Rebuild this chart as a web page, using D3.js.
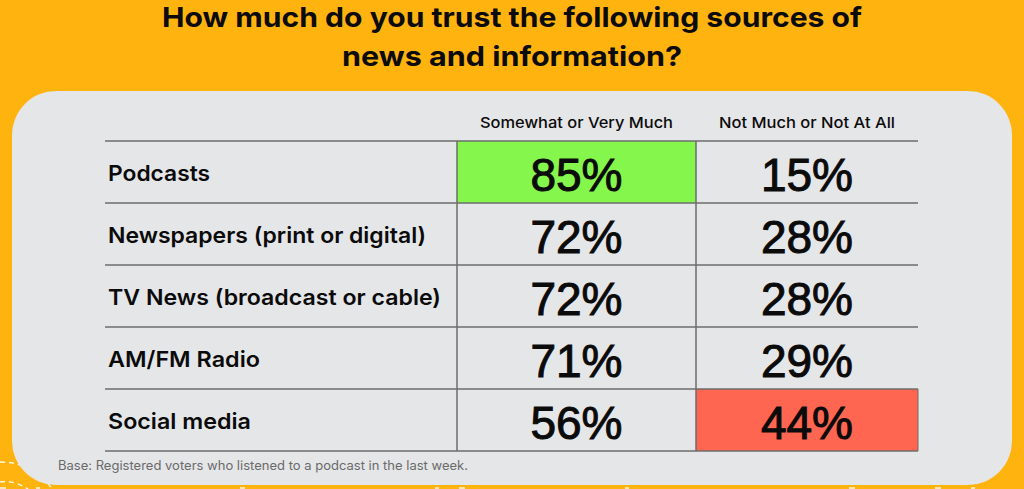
<!DOCTYPE html>
<html>
<head>
<meta charset="utf-8">
<script src="https://cdn.jsdelivr.net/npm/d3@7"></script>
<style>
  html, body { margin: 0; padding: 0; background: #FFB30F; }
  svg { display: block; }
</style>
</head>
<body>
<svg id="chart" width="1024" height="489"></svg>
<script>
// ---- data ----
const titleLines = ["How much do you trust the following sources of", "news and information?"];
const categories = ["Podcasts", "Newspapers (print or digital)", "TV News (broadcast or cable)", "AM/FM Radio", "Social media"];
const columnHeaders = ["Somewhat or Very Much", "Not Much or Not At All"];
const trustHigh = [85, 72, 72, 71, 56];
const trustLow = [15, 28, 28, 29, 44];
const footnote = "Base: Registered voters who listened to a podcast in the last week.";

// ---- layout ----
const W = 1024, H = 489;
const svg = d3.select("#chart");
const C = {
  bg: "#FFB30F", panel: "#E5E6E8", line: "#6c6c6c",
  green: "#85F64B", red: "#FF6651", text: "#0b0b0b", note: "#6a6a6a"
};

svg.append("rect").attr("width", W).attr("height", H).attr("fill", C.bg);

// decorative dashed white curves (behind panel)
const deco = svg.append("g").attr("fill", "none").attr("stroke", "#fff")
  .attr("stroke-width", 1.5).attr("stroke-dasharray", "5,4").attr("opacity", 0.9);
deco.append("path").attr("d", "M0,462 C20,462 40,470 52,489");
deco.append("path").attr("d", "M0,482 C10,480 20,484 28,489");
deco.append("path").attr("d", "M0,488 L1024,488")
  .attr("stroke-dasharray", "6,30,4,200,5,190,4,20,6,160,4,220,6,80");

// panel
svg.append("rect").attr("x", 12).attr("y", 91).attr("width", 1000).attr("height", 394)
  .attr("rx", 44).attr("ry", 44).attr("fill", C.panel);

// title
const title = svg.append("g");
const titleBase = [27, 66];
const titleWidths = [700, 340];
titleLines.forEach((t, i) => {
  title.append("text")
    .attr("x", 512).attr("y", titleBase[i])
    .attr("text-anchor", "middle")
    .attr("font-family", "Inter, 'Noto Sans', sans-serif")
    .attr("font-weight", 700).attr("font-size", 27.5)
    .attr("fill", C.text)
    .attr("textLength", titleWidths[i]).attr("lengthAdjust", "spacingAndGlyphs")
    .text(t);
});

// scales
const y = d3.scaleBand().domain(categories).range([141, 451]).padding(0);
const colX = { label: [105, 457], high: [457, 696], low: [696, 918] };
const xCenter = k => (colX[k][0] + colX[k][1]) / 2;

const maxHigh = d3.max(trustHigh), maxLow = d3.max(trustLow);
const rows = categories.map((c, i) => ({ cat: c, high: trustHigh[i], low: trustLow[i] }));

// highlighted cells
const cells = svg.append("g");
rows.forEach(r => {
  if (r.high === maxHigh) {
    cells.append("rect").attr("x", colX.high[0]).attr("y", y(r.cat))
      .attr("width", colX.high[1] - colX.high[0]).attr("height", y.bandwidth()).attr("fill", C.green);
  }
  if (r.low === maxLow) {
    cells.append("rect").attr("x", colX.low[0]).attr("y", y(r.cat))
      .attr("width", colX.low[1] - colX.low[0]).attr("height", y.bandwidth()).attr("fill", C.red);
  }
});

// grid lines
const grid = svg.append("g").attr("stroke", C.line).attr("stroke-width", 1.5);
const hLines = categories.map(c => y(c)).concat([y.range()[1]]);
hLines.forEach(v => {
  grid.append("line").attr("x1", 105).attr("x2", 918).attr("y1", v).attr("y2", v);
});
[457, 696].forEach(v => {
  grid.append("line").attr("x1", v).attr("x2", v).attr("y1", y.range()[0]).attr("y2", y.range()[1]);
});
grid.append("line").attr("x1", 918).attr("x2", 918)
  .attr("y1", y(categories[categories.length - 1])).attr("y2", y.range()[1]).attr("stroke-width", 1);

// column headers
const headerWidths = [193, 176];
["high", "low"].forEach((k, i) => {
  svg.append("text")
    .attr("x", xCenter(k)).attr("y", 127.5)
    .attr("text-anchor", "middle")
    .attr("font-family", "Inter, 'Noto Sans', sans-serif")
    .attr("font-weight", 500).attr("font-size", 15)
    .attr("fill", C.text)
    .attr("textLength", headerWidths[i]).attr("lengthAdjust", "spacingAndGlyphs")
    .text(columnHeaders[i]);
});

// row labels and values
const labelWidths = [102, 318, 333, 152, 143];
rows.forEach((r, i) => {
  const cy = y(r.cat) + y.bandwidth() / 2;
  svg.append("text")
    .attr("x", 108).attr("y", cy + 8.5)
    .attr("font-family", "Inter, 'Noto Sans', sans-serif")
    .attr("font-weight", 600).attr("font-size", 22)
    .attr("fill", C.text)
    .attr("textLength", labelWidths[i]).attr("lengthAdjust", "spacingAndGlyphs")
    .text(r.cat);
  ["high", "low"].forEach(k => {
    svg.append("text")
      .attr("x", xCenter(k)).attr("y", cy + 18.5)
      .attr("text-anchor", "middle")
      .attr("font-family", "'Liberation Sans', Arial, sans-serif")
      .attr("font-size", 46)
      .attr("fill", C.text).attr("stroke", C.text).attr("stroke-width", 1)
      .text(r[k] + "%");
  });
});

// footnote
svg.append("text")
  .attr("x", 58).attr("y", 470)
  .attr("font-family", "Inter, 'Noto Sans', sans-serif")
  .attr("font-size", 12.5)
  .attr("fill", C.note)
  .attr("textLength", 410).attr("lengthAdjust", "spacingAndGlyphs")
  .text(footnote);
</script>
</body>
</html>
